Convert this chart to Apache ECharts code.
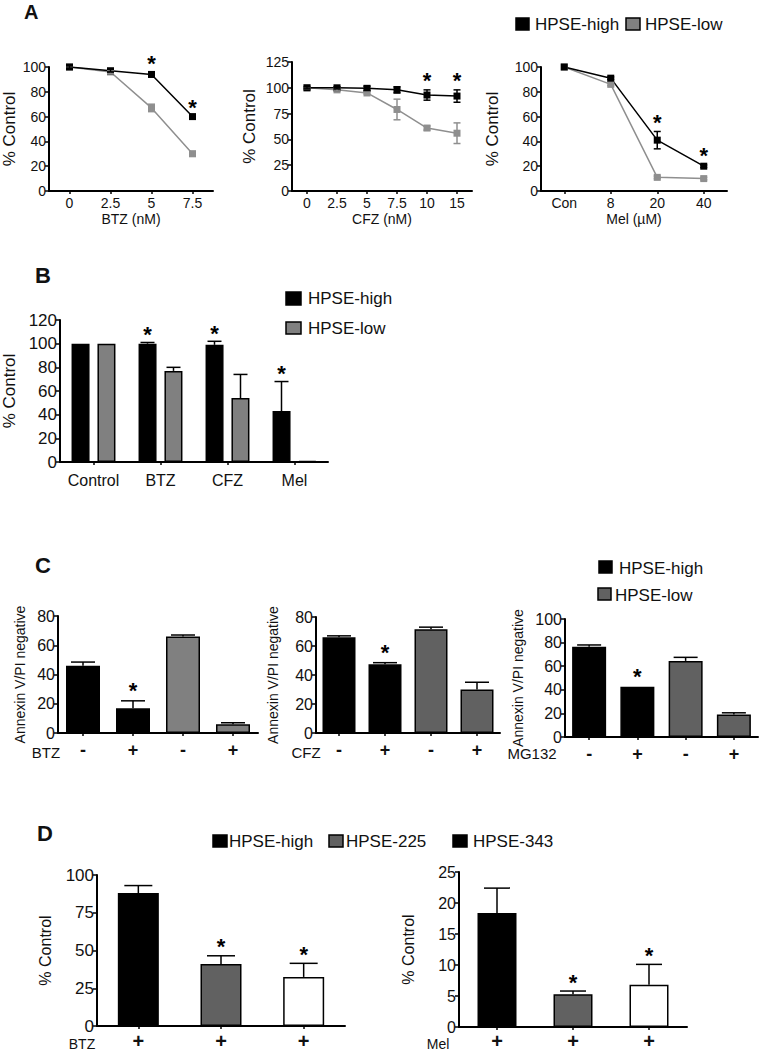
<!DOCTYPE html>
<html><head><meta charset="utf-8">
<script src="https://cdn.jsdelivr.net/npm/echarts@6/dist/echarts.min.js"></script>
<style>html,body{margin:0;padding:0;background:#fff}#c{width:759px;height:1051px}</style>
</head><body><div id="c"></div>
<script>
// ---------- Panel A ----------
const A1_cats = ['0', '2.5', '5', '7.5'];
const A1_high = [100, 97, 94, 60];
const A1_highErr = [1, 1, 2, 1];
const A1_low = [100, 96, 67, 30];
const A1_lowErr = [1, 1, 3, 2];
const A1_stars = ['', '', '*', '*'];

const A2_cats = ['0', '2.5', '5', '7.5', '10', '15'];
const A2_high = [100, 100, 99.5, 98, 93, 92];
const A2_highErr = [1, 1, 2, 3, 5, 6];
const A2_low = [100, 98, 95, 79, 61, 56];
const A2_lowErr = [1, 1, 1, 10, 2, 10];
const A2_stars = ['', '', '', '', '*', '*'];

const A3_cats = ['Con', '8', '20', '40'];
const A3_high = [100, 91, 41, 20];
const A3_highErr = [0, 1, 7, 1];
const A3_low = [100, 86, 11, 10];
const A3_lowErr = [0, 1, 1, 1];
const A3_stars = ['', '', '*', '*'];

// ---------- Panel B ----------
const B_cats = ['Control', 'BTZ', 'CFZ', 'Mel'];
const B_high = [100, 100, 99, 43];
const B_highErr = [0, 1, 3, 25];
const B_low = [100, 77, 54, 1];
const B_lowErr = [0, 3, 20, 0];
const B_stars = ['', '*', '*', '*'];

// ---------- Panel C ----------
const C_cats = ['-', '+', '-', '+'];
const C1_vals = [46, 17, 66, 6];
const C1_err = [2.5, 5, 1, 1];
const C2_vals = [66, 47.5, 71.5, 30];
const C2_err = [1, 1, 1.5, 5];
const C3_vals = [76.5, 42.5, 64.5, 19];
const C3_err = [1.5, 0, 3, 1.5];
const C_stars = ['', '*', '', ''];

// ---------- Panel D ----------
const D_cats = ['+', '+', '+'];
const D1_vals = [88, 41, 32.5];
const D1_err = [5, 5.5, 9];
const D2_vals = [18.4, 5.3, 6.8];
const D2_err = [4, 0.5, 3.3];
const D_stars = ['', '*', '*'];

const FONT = '"Liberation Sans", Arial, sans-serif';
const chart = echarts.init(document.getElementById('c'), null, {renderer: 'svg'});

function xAx(g, cats, fs, margin, name, nameGap, bold) {
  return {
    type: 'category', gridIndex: g, data: cats, boundaryGap: true,
    axisLine: {lineStyle: {color: '#000', width: 2}},
    axisTick: {show: true, alignWithLabel: true, length: 3, lineStyle: {color: '#000', width: 1.5}},
    axisLabel: {color: '#111', fontSize: fs, fontFamily: FONT, margin: margin, interval: 0, fontWeight: bold ? 'bold' : 'normal'},
    name: name || '', nameLocation: 'middle', nameGap: nameGap || 0,
    nameTextStyle: {color: '#111', fontSize: 14, fontFamily: FONT}
  };
}
function yAx(g, max, interval, fs, name, nameGap, nfs) {
  return {
    type: 'value', gridIndex: g, min: 0, max: max, interval: interval,
    splitLine: {show: false},
    axisLine: {show: true, lineStyle: {color: '#000', width: 2}},
    axisTick: {show: true, length: 4, lineStyle: {color: '#000', width: 1.5}},
    axisLabel: {color: '#111', fontSize: fs, fontFamily: FONT, margin: 3},
    name: name, nameLocation: 'middle', nameRotate: 90, nameGap: nameGap,
    nameTextStyle: {color: '#111', fontSize: nfs, fontFamily: FONT}
  };
}
function errSeries(ax, vals, errs, stars, offset, capW, both, color, starGap) {
  return {
    type: 'custom', xAxisIndex: ax, yAxisIndex: ax, z: 10, silent: true,
    data: vals.map((v, i) => [i, v, errs[i]]),
    renderItem: function (params, api) {
      const i = api.value(0), v = api.value(1), e = api.value(2);
      const s = stars[params.dataIndex];
      const p = api.coord([i, v]);
      const t = api.coord([i, v + e]);
      const b = api.coord([i, both ? v - e : v]);
      const x = p[0] + offset;
      const ch = [];
      const st = {stroke: color, lineWidth: 1.5};
      if (e > 0) {
        ch.push({type: 'line', shape: {x1: x, y1: t[1], x2: x, y2: b[1]}, style: st});
        ch.push({type: 'line', shape: {x1: x - capW / 2, y1: t[1], x2: x + capW / 2, y2: t[1]}, style: st});
        if (both) ch.push({type: 'line', shape: {x1: x - capW / 2, y1: b[1], x2: x + capW / 2, y2: b[1]}, style: st});
      }
      if (s) ch.push({type: 'text', style: {text: s, x: x, y: t[1] - starGap, textAlign: 'center', align: 'center',
        textVerticalAlign: 'middle', verticalAlign: 'middle', fontSize: 22, fontWeight: 'bold', fill: '#000', fontFamily: FONT}});
      return {type: 'group', children: ch};
    }
  };
}
function lineSeries(ax, vals, color) {
  return {type: 'line', xAxisIndex: ax, yAxisIndex: ax, data: vals, symbol: 'rect', symbolSize: 7,
    lineStyle: {color: color, width: 1.5}, itemStyle: {color: color}, z: 5, silent: true};
}
function barSeries(ax, vals, colors, width, extra) {
  return Object.assign({type: 'bar', xAxisIndex: ax, yAxisIndex: ax, barWidth: width, silent: true,
    data: vals.map((v, i) => ({value: v, itemStyle: {color: colors[i], borderColor: '#000', borderWidth: 1.5}}))}, extra || {});
}
function txt(t, x, y, fs, bold, align) {
  return {type: 'text', x: x, y: y, style: {text: t, fontSize: fs, fontWeight: bold ? 'bold' : 'normal', fontFamily: FONT,
    fill: '#111', textAlign: align || 'left', align: align || 'left', textVerticalAlign: 'middle', verticalAlign: 'middle'}};
}
function sq(x, y, w, h, fill) {
  return {type: 'rect', shape: {x: x, y: y, width: w, height: h}, style: {fill: fill, stroke: '#000', lineWidth: 1.5}};
}

const GRAY_A = '#8f8f8f';
const grids = [
  {left: 40, top: 67, width: 173, height: 124},   // A1
  {left: 292, top: 62, width: 180, height: 129},  // A2
  {left: 541, top: 67, width: 186, height: 124},  // A3
  {left: 58, top: 320, width: 270, height: 142},  // B
  {left: 58, top: 616, width: 200, height: 117},  // C1
  {left: 316, top: 617, width: 184, height: 116}, // C2
  {left: 565, top: 619, width: 193, height: 118}, // C3
  {left: 97, top: 875, width: 248, height: 152},  // D1
  {left: 459, top: 872, width: 228, height: 157}  // D2
];

const option = {
  animation: false,
  backgroundColor: '#fff',
  textStyle: {fontFamily: FONT},
  grid: grids,
  xAxis: [
    xAx(0, A1_cats, 14, 5, 'BTZ (nM)', 21),
    xAx(1, A2_cats, 14, 5, 'CFZ (nM)', 21),
    xAx(2, A3_cats, 14, 5, 'Mel (\u00b5M)', 21),
    xAx(3, B_cats, 16, 10),
    xAx(4, C_cats, 18, 8, '', 0, true),
    xAx(5, C_cats, 18, 8, '', 0, true),
    xAx(6, C_cats, 18, 8, '', 0, true),
    xAx(7, D_cats, 20, 5, '', 0, true),
    xAx(8, D_cats, 20, 4, '', 0, true)
  ],
  yAxis: [
    yAx(0, 100, 20, 14, '% Control', 31, 17),
    yAx(1, 125, 25, 14, '% Control', 34, 17),
    yAx(2, 100, 20, 14, '% Control', 40, 17),
    yAx(3, 120, 20, 17, '% Control', 42, 17),
    yAx(4, 80, 20, 16, 'Annexin V/PI negative', 31, 14),
    yAx(5, 80, 20, 16, 'Annexin V/PI negative', 36, 14),
    yAx(6, 100, 20, 16, 'Annexin V/PI negative', 40, 14),
    yAx(7, 100, 25, 17, '% Control', 44, 16),
    yAx(8, 25, 5, 16, '% Control', 43, 16)
  ],
  series: [
    // A1
    lineSeries(0, A1_low, GRAY_A), errSeries(0, A1_low, A1_lowErr, ['', '', '', ''], 0, 7, true, GRAY_A, 0),
    lineSeries(0, A1_high, '#000'), errSeries(0, A1_high, A1_highErr, A1_stars, 0, 7, true, '#000', 8),
    // A2
    lineSeries(1, A2_low, GRAY_A), errSeries(1, A2_low, A2_lowErr, ['', '', '', '', '', ''], 0, 7, true, GRAY_A, 0),
    lineSeries(1, A2_high, '#000'), errSeries(1, A2_high, A2_highErr, A2_stars, 0, 7, true, '#000', 9),
    // A3
    lineSeries(2, A3_low, GRAY_A), errSeries(2, A3_low, A3_lowErr, ['', '', '', ''], 0, 7, true, GRAY_A, 0),
    lineSeries(2, A3_high, '#000'), errSeries(2, A3_high, A3_highErr, A3_stars, 0, 7, true, '#000', 9),
    // B
    barSeries(3, B_high, B_high.map(() => '#000'), 18, {barGap: '44%'}),
    barSeries(3, B_low, B_low.map(() => '#808080'), 18, {barGap: '44%'}),
    errSeries(3, B_high, B_highErr, B_stars, -13, 14, false, '#000', 8),
    errSeries(3, B_low, B_lowErr, ['', '', '', ''], 13, 14, false, '#000', 0),
    // C
    barSeries(4, C1_vals, ['#000', '#000', '#808080', '#808080'], 34),
    errSeries(4, C1_vals, C1_err, C_stars, 0, 24, false, '#000', 10),
    barSeries(5, C2_vals, ['#000', '#000', '#616161', '#616161'], 33),
    errSeries(5, C2_vals, C2_err, C_stars, 0, 24, false, '#000', 10),
    barSeries(6, C3_vals, ['#000', '#000', '#616161', '#616161'], 34),
    errSeries(6, C3_vals, C3_err, C_stars, 0, 24, false, '#000', 10),
    // D
    barSeries(7, D1_vals, ['#000', '#616161', '#fff'], 41),
    errSeries(7, D1_vals, D1_err, D_stars, 0, 28, false, '#000', 9),
    barSeries(8, D2_vals, ['#000', '#616161', '#fff'], 39),
    errSeries(8, D2_vals, D2_err, D_stars, 0, 26, false, '#000', 9)
  ],
  graphic: [
    txt('A', 24, 12, 20, true),
    txt('B', 35, 275, 22, true),
    txt('C', 35, 565, 22, true),
    txt('D', 37, 833, 22, true),
    // Legend A
    sq(516, 18, 13, 12, '#000'), txt('HPSE-high', 535, 24, 17),
    sq(626, 18, 14, 12, '#808080'), txt('HPSE-low', 645, 24, 17),
    // Legend B
    sq(286, 292, 15, 13, '#000'), txt('HPSE-high', 308, 298, 17),
    sq(286, 322, 15, 12, '#808080'), txt('HPSE-low', 308, 328, 17),
    // Legend C
    sq(599, 561, 13, 12, '#000'), txt('HPSE-high', 619, 568, 17),
    sq(598, 588, 13, 12, '#616161'), txt('HPSE-low', 615, 595, 17),
    // Legend D
    sq(213, 835, 14, 12, '#000'), txt('HPSE-high', 229, 841, 17),
    sq(329, 835, 14, 12, '#616161'), txt('HPSE-225', 346, 841, 17),
    sq(453, 835, 14, 12, '#000'), txt('HPSE-343', 473, 841, 17),
    // treatment row labels
    txt('BTZ', 46, 752, 15, false, 'center'),
    txt('CFZ', 306, 752, 15, false, 'center'),
    txt('MG132', 532, 753, 15, false, 'center'),
    txt('BTZ', 82, 1044, 14, false, 'center'),
    txt('Mel', 438, 1044, 14, false, 'center')
  ]
};
chart.setOption(option);
</script>
</body></html>
